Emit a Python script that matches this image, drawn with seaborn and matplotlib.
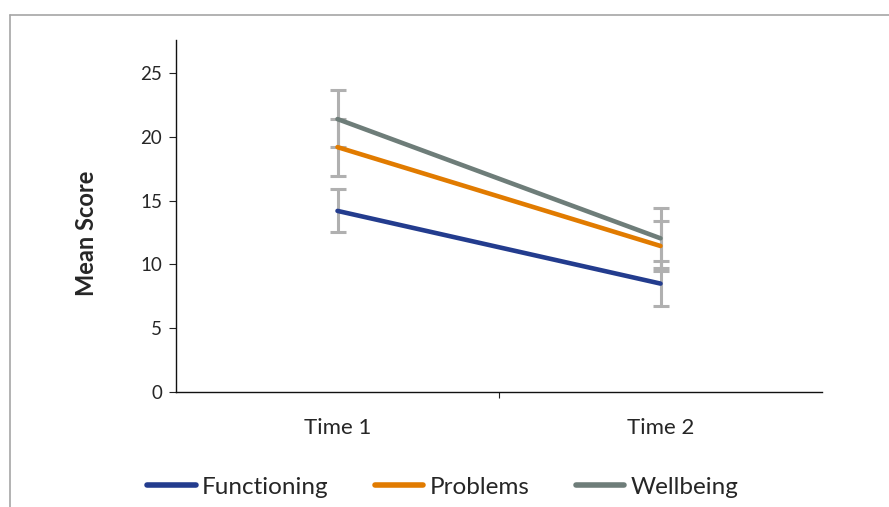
import numpy as np
import pandas as pd
import seaborn as sns
import matplotlib.pyplot as plt
from matplotlib.lines import Line2D

times = ['Time 1', 'Time 2']
series = ['Functioning', 'Problems', 'Wellbeing']
functioning = [14.2, 8.5]
problems = [19.2, 11.45]
wellbeing = [21.4, 12.05]
# error bars (below, above)
functioning_err = [[1.65, 1.78], [1.7, 1.8]]
problems_err = [[2.25, 1.97], [2.2, 1.97]]
wellbeing_err = [[2.2, 2.35], [2.25, 2.4]]
colors = ['#233c8e', '#e17b00', '#6e7d79']

sns.set_style('white')
plt.rcParams['font.family'] = ['Lato', 'DejaVu Sans']

rows = []
for name, vals in zip(series, [functioning, problems, wellbeing]):
    for i, v in enumerate(vals):
        rows.append({'Time': i, 'Series': name, 'Score': v})
df = pd.DataFrame(rows)

fig = plt.figure(figsize=(8.89, 5.07), dpi=100)
ax = fig.add_axes([176 / 889, 1 - 392 / 507, (822 - 176) / 889, (392 - 40) / 507])

x = np.arange(len(times))
for vals, err in zip([wellbeing, problems, functioning], [wellbeing_err, problems_err, functioning_err]):
    ax.errorbar(x, vals, yerr=np.array(err), fmt='none', ecolor='#b0b0b0',
                elinewidth=2.2, capsize=6, capthick=2.2, zorder=2)

sns.lineplot(data=df, x='Time', y='Score', hue='Series', palette=colors,
             linewidth=3.3, ax=ax, zorder=3, solid_capstyle='round')

ax.set_xlim(-0.5, 1.5)
ax.set_ylim(0, 27.6)
ax.set_yticks([0, 5, 10, 15, 20, 25])
ax.tick_params(axis='y', labelsize=13.5, length=5, width=0.8, pad=5, left=True, color='#222222')
ax.set_xticks(x)
ax.set_xticklabels(times)
ax.set_xticks([0.5], minor=True)
ax.tick_params(axis='x', which='major', labelsize=16, length=0, pad=19)
ax.tick_params(axis='x', which='minor', length=4, width=0.8, bottom=True, color='#222222')
ax.set_xlabel('')
ax.set_ylabel('Mean Score', fontsize=17, fontweight='bold')
ax.yaxis.set_label_coords(-0.12, 0.45)

for side in ['top', 'right']:
    ax.spines[side].set_visible(False)
for side in ['left', 'bottom']:
    ax.spines[side].set_color('#111111')
    ax.spines[side].set_linewidth(1)

handles = [Line2D([], [], color=c, linewidth=4, solid_capstyle='round') for c in colors]
ax.legend(handles, series, loc='center', bbox_to_anchor=(0.498, 0.039),
          bbox_transform=fig.transFigure, ncol=3, frameon=False, fontsize=17.5,
          handlelength=2.0, handletextpad=0.25, columnspacing=1.9)

# partial frame around the chart
top = 1 - 15 / 507
fig.add_artist(Line2D([10 / 889, 1], [top, top], color='#a6a6a6', linewidth=1.2))
fig.add_artist(Line2D([10 / 889, 10 / 889], [0, top], color='#a6a6a6', linewidth=1.2))

fig.savefig('out.png', dpi=100)
